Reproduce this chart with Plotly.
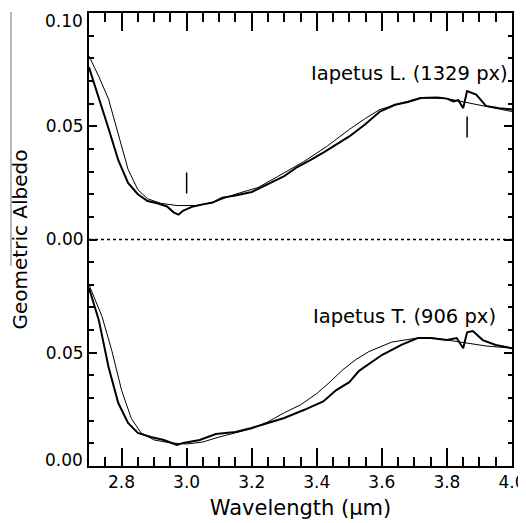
import plotly.graph_objects as go

# Panel offset: leading-side spectrum is shifted up by 0.10
OFFSET = 0.10

# Iapetus L. (1329 px) - measured spectrum (thick)
wl_L_obs = [2.70, 2.73, 2.76, 2.79, 2.82, 2.85, 2.88, 2.91, 2.94, 2.96, 2.975, 2.99,
            3.02, 3.05, 3.08, 3.11, 3.15, 3.20, 3.25, 3.30, 3.34, 3.38, 3.42, 3.46,
            3.50, 3.55, 3.594, 3.64, 3.68, 3.72, 3.77, 3.80, 3.82, 3.835, 3.85, 3.862,
            3.89, 3.92, 3.96, 4.00]
alb_L_obs = [0.076, 0.063, 0.049, 0.035, 0.025, 0.020, 0.017, 0.016, 0.0146, 0.012, 0.011, 0.0128,
             0.0146, 0.0155, 0.0163, 0.0185, 0.0194, 0.021, 0.0245, 0.028, 0.032, 0.035, 0.0384, 0.042,
             0.0455, 0.051, 0.0565, 0.0595, 0.0607, 0.0625, 0.0627, 0.0622, 0.061, 0.0615, 0.058, 0.0655,
             0.064, 0.059, 0.058, 0.0574]

# Iapetus L. - model fit (thin)
wl_L_mod = [2.70, 2.73, 2.76, 2.79, 2.82, 2.85, 2.88, 2.92, 2.97, 3.03, 3.08, 3.15,
            3.22, 3.28, 3.36, 3.43, 3.50, 3.55, 3.594, 3.68, 3.72, 3.80, 3.88, 3.95, 4.00]
alb_L_mod = [0.081, 0.072, 0.062, 0.046, 0.031, 0.022, 0.018, 0.016, 0.015, 0.015, 0.0163, 0.020,
             0.023, 0.0278, 0.0344, 0.041, 0.0486, 0.0535, 0.0574, 0.061, 0.0627, 0.0622, 0.060, 0.058, 0.0565]

# Iapetus T. (906 px) - measured spectrum (thick)
wl_T_obs = [2.70, 2.73, 2.76, 2.79, 2.82, 2.85, 2.89, 2.93, 2.97, 2.99, 3.04, 3.09,
            3.15, 3.20, 3.25, 3.30, 3.36, 3.42, 3.46, 3.50, 3.53, 3.60, 3.66, 3.71,
            3.75, 3.80, 3.83, 3.85, 3.862, 3.88, 3.91, 3.95, 4.00]
alb_T_obs = [0.0786, 0.0645, 0.0437, 0.0278, 0.019, 0.0146, 0.0128, 0.0115, 0.0093, 0.0102, 0.0115, 0.0141,
             0.015, 0.0168, 0.019, 0.0212, 0.0247, 0.0285, 0.0335, 0.037, 0.042, 0.049, 0.0535, 0.0565,
             0.0565, 0.0556, 0.0565, 0.052, 0.059, 0.0596, 0.0556, 0.0534, 0.052]

# Iapetus T. - model fit (thin)
wl_T_mod = [2.70, 2.74, 2.77, 2.80, 2.83, 2.86, 2.90, 2.95, 3.00, 3.05, 3.10, 3.20,
            3.25, 3.30, 3.35, 3.40, 3.44, 3.48, 3.52, 3.56, 3.63, 3.70, 3.76, 3.84, 3.92, 4.00]
alb_T_mod = [0.080, 0.066, 0.051, 0.0335, 0.021, 0.0146, 0.0115, 0.0102, 0.0097, 0.0106, 0.0128, 0.0165,
             0.0195, 0.0235, 0.027, 0.032, 0.037, 0.0425, 0.047, 0.0505, 0.0547, 0.0563, 0.0565, 0.0547, 0.053, 0.052]

# band markers on the leading spectrum: (wavelength, bottom, top)
marks_L = [(3.0, 0.0203, 0.0296), (3.862, 0.045, 0.0543)]

FONT = "DejaVu Sans"

fig = go.Figure()

fig.add_trace(go.Scatter(x=wl_L_mod, y=[a + OFFSET for a in alb_L_mod], mode="lines",
                         line=dict(color="black", width=1)))
fig.add_trace(go.Scatter(x=wl_L_obs, y=[a + OFFSET for a in alb_L_obs], mode="lines",
                         line=dict(color="black", width=2)))
fig.add_trace(go.Scatter(x=wl_T_mod, y=alb_T_mod, mode="lines",
                         line=dict(color="black", width=1)))
fig.add_trace(go.Scatter(x=wl_T_obs, y=alb_T_obs, mode="lines",
                         line=dict(color="black", width=2)))

for w, lo, hi in marks_L:
    fig.add_trace(go.Scatter(x=[w, w], y=[lo + OFFSET, hi + OFFSET], mode="lines",
                             line=dict(color="black", width=1.5)))

# zero line of the upper spectrum
fig.add_hline(y=OFFSET, line=dict(color="black", width=1.3, dash="dot"))

fig.add_annotation(x=3.994, y=0.0735 + OFFSET, text="Iapetus L. (1329 px)", showarrow=False,
                   xanchor="right", yanchor="middle", font=dict(family=FONT, size=19.5, color="black"))
fig.add_annotation(x=3.957, y=0.0658, text="Iapetus T. (906 px)", showarrow=False,
                   xanchor="right", yanchor="middle", font=dict(family=FONT, size=19.5, color="black"))

# end labels of the y axis sit inside the axis span, as in the original
fig.add_annotation(xref="paper", x=0, xanchor="right", xshift=-4, y=0.2, yanchor="top", yshift=4,
                   text="0.10", showarrow=False, font=dict(family=FONT, size=17, color="black"))
fig.add_annotation(xref="paper", x=0, xanchor="right", xshift=-4, y=0.0, yanchor="bottom", yshift=-6,
                   text="0.00", showarrow=False, font=dict(family=FONT, size=17, color="black"))

# faint scan line beside the y title
fig.add_shape(type="line", xref="paper", yref="paper", x0=-0.1844, x1=-0.1844, y0=0.4415, y1=1.002,
              line=dict(color="#888888", width=1.2))

# page body has an 8px margin, so the figure is trimmed by 8px on the left/top
fig.update_layout(
    width=518, height=515,
    margin=dict(l=81, r=14, t=5, b=57, autoexpand=False),
    paper_bgcolor="white", plot_bgcolor="white",
    showlegend=False,
    font=dict(family=FONT, size=17, color="black"),
)

fig.update_xaxes(
    range=[2.7, 4.0], tickvals=[2.8, 3.0, 3.2, 3.4, 3.6, 3.8, 4.0],
    ticktext=["2.8", "3.0", "3.2", "3.4", "3.6", "3.8", "4.0"],
    ticks="inside", ticklen=18, tickwidth=1.5, tickcolor="black",
    minor=dict(dtick=0.05, ticks="inside", ticklen=9, tickwidth=1.5, tickcolor="black"),
    showline=True, linewidth=2, linecolor="black", mirror="allticks",
    showgrid=False, zeroline=False, automargin=False, ticklabeloverflow="allow",
    tickfont=dict(family=FONT, size=17),
    title=dict(text="Wavelength (μm)", font=dict(family=FONT, size=21), standoff=9),
)

fig.update_yaxes(
    range=[0, 0.2], tickvals=[0, 0.05, 0.10, 0.15, 0.20],
    ticktext=["", "0.05", "0.00", "0.05", ""],
    ticks="inside", ticklen=8, tickwidth=1.5, tickcolor="black",
    minor=dict(dtick=0.01, ticks="inside", ticklen=4.5, tickwidth=1.5, tickcolor="black"),
    showline=True, linewidth=2, linecolor="black", mirror="allticks",
    showgrid=False, zeroline=False, automargin=False, ticklabeloverflow="allow",
    tickfont=dict(family=FONT, size=17),
    title=dict(text="Geometric Albedo", font=dict(family=FONT, size=20), standoff=14),
)

fig.write_html("out.html")
